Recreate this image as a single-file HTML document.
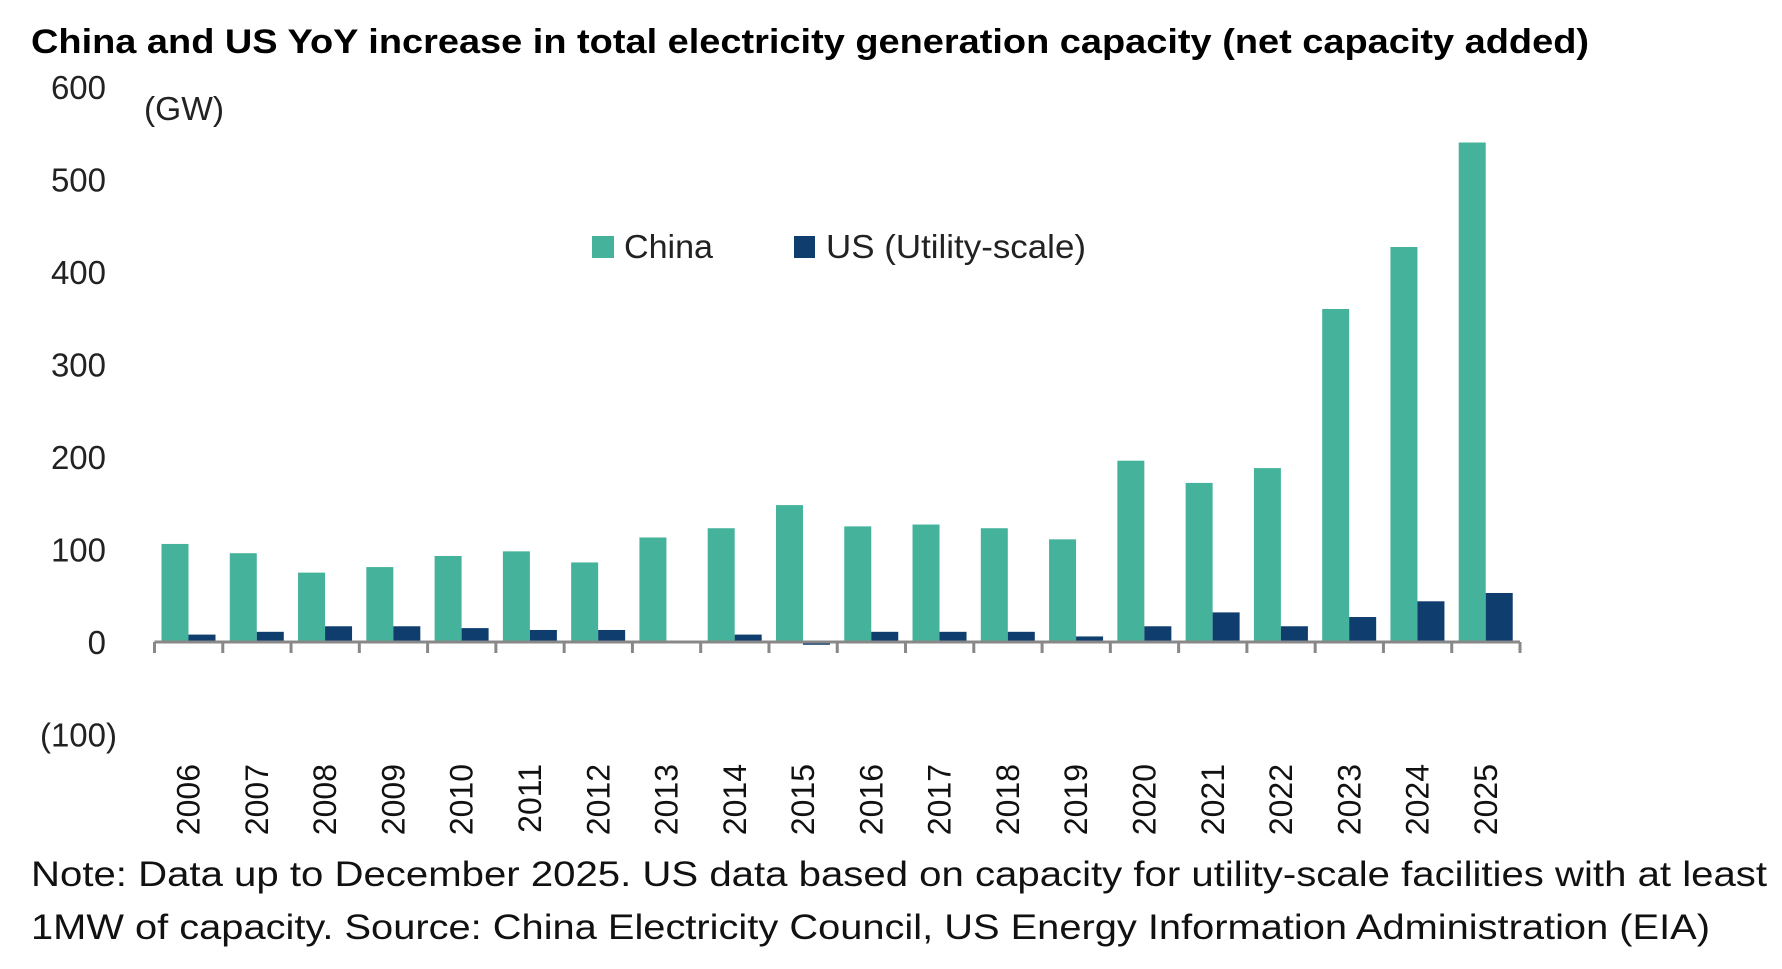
<!DOCTYPE html>
<html><head><meta charset="utf-8"><style>
html,body{margin:0;padding:0;background:#fff;}
svg{display:block;font-family:"Liberation Sans",sans-serif;}
</style></head><body>
<svg id="chart" width="1782" height="969" viewBox="0 0 1782 969" xmlns="http://www.w3.org/2000/svg">
<text x="31" y="53" font-size="34" font-weight="bold" fill="#000" textLength="1558" lengthAdjust="spacingAndGlyphs">China and US YoY increase in total electricity generation capacity (net capacity added)</text>
<text x="144" y="120" font-size="33" fill="#222" textLength="80" lengthAdjust="spacingAndGlyphs">(GW)</text>
<g>
<rect x="592" y="236" width="22" height="22" fill="#45B39B"/>
<text x="624" y="258" font-size="33" fill="#222" textLength="89" lengthAdjust="spacingAndGlyphs">China</text>
<rect x="794" y="236" width="21" height="22" fill="#0F3D6E"/>
<text x="826" y="258" font-size="33" fill="#222" textLength="260" lengthAdjust="spacingAndGlyphs">US (Utility-scale)</text>
</g>
<g id="yticks"></g><g id="bars"></g><g id="axis"></g><g id="xlabels"></g>
<text x="31" y="886" font-size="35" fill="#111" textLength="1736" lengthAdjust="spacingAndGlyphs">Note: Data up to December 2025. US data based on capacity for utility-scale facilities with at least</text>
<text x="31" y="939" font-size="35" fill="#111" textLength="1679" lengthAdjust="spacingAndGlyphs">1MW of capacity. Source: China Electricity Council, US Energy Information Administration (EIA)</text>
</svg>
<script>
const years = ["2006","2007","2008","2009","2010","2011","2012","2013","2014","2015","2016","2017","2018","2019","2020","2021","2022","2023","2024","2025"];
const chinaValues = [106,96,75,81,93,98,86,113,123,148,125,127,123,111,196,172,188,360,427,540];
const usValues = [8,11,17,17,15,13,13,0,8,-3,11,11,11,6,17,32,17,27,44,53];
const yTicks = [600,500,400,300,200,100,0,-100];
const yTickLabels = ["600","500","400","300","200","100","0","(100)"];

const NS="http://www.w3.org/2000/svg";
const x0=154.5, x1=1520, zeroY=642, pxPer=0.925;
const step=(x1-x0)/years.length;
function yScale(v){return zeroY - v*pxPer;}
function xBand(i){return x0 + i*step;}
function mk(tag,attrs,parent){const e=document.createElementNS(NS,tag);for(const k in attrs)e.setAttribute(k,attrs[k]);parent.appendChild(e);return e;}

const gy=document.getElementById('yticks');
yTicks.forEach((v,i)=>{
  const neg=v<0;
  const t=mk('text',{x:neg?117:106,y:yScale(v)+12,'font-size':33,fill:'#222','text-anchor':'end'},gy);
  
  
  t.textContent=yTickLabels[i];
});

const gb=document.getElementById('bars');
years.forEach((yr,i)=>{
  const bx=xBand(i);
  const c=chinaValues[i];
  const r1=mk('rect',{x:bx+7,y:Math.min(yScale(c),zeroY),width:27,height:Math.abs(yScale(c)-zeroY),fill:'#45B39B'},gb);
  
  
  const u=usValues[i];
  const r2=mk('rect',{x:bx+34,y:Math.min(yScale(u),zeroY),width:27,height:Math.abs(yScale(u)-zeroY),fill:'#0F3D6E'},gb);
  
  
});

const ga=document.getElementById('axis');
const ax=mk('line',{x1:x0,y1:zeroY,x2:x1,y2:zeroY,stroke:'#888','stroke-width':3},ga);


for(let i=0;i<=years.length;i++){
  const tk=mk('line',{x1:xBand(i),y1:zeroY,x2:xBand(i),y2:zeroY+11,stroke:'#888','stroke-width':3},ga);
  
  
}

const gx=document.getElementById('xlabels');
years.forEach((yr,i)=>{
  const cx=xBand(i)+step/2+11;
  const t=mk('text',{x:0,y:0,'font-size':32,fill:'#111','text-anchor':'end',transform:`translate(${cx},764) rotate(-90)`},gx);
  
  
  t.textContent=yr;
});
</script>
</body></html>
